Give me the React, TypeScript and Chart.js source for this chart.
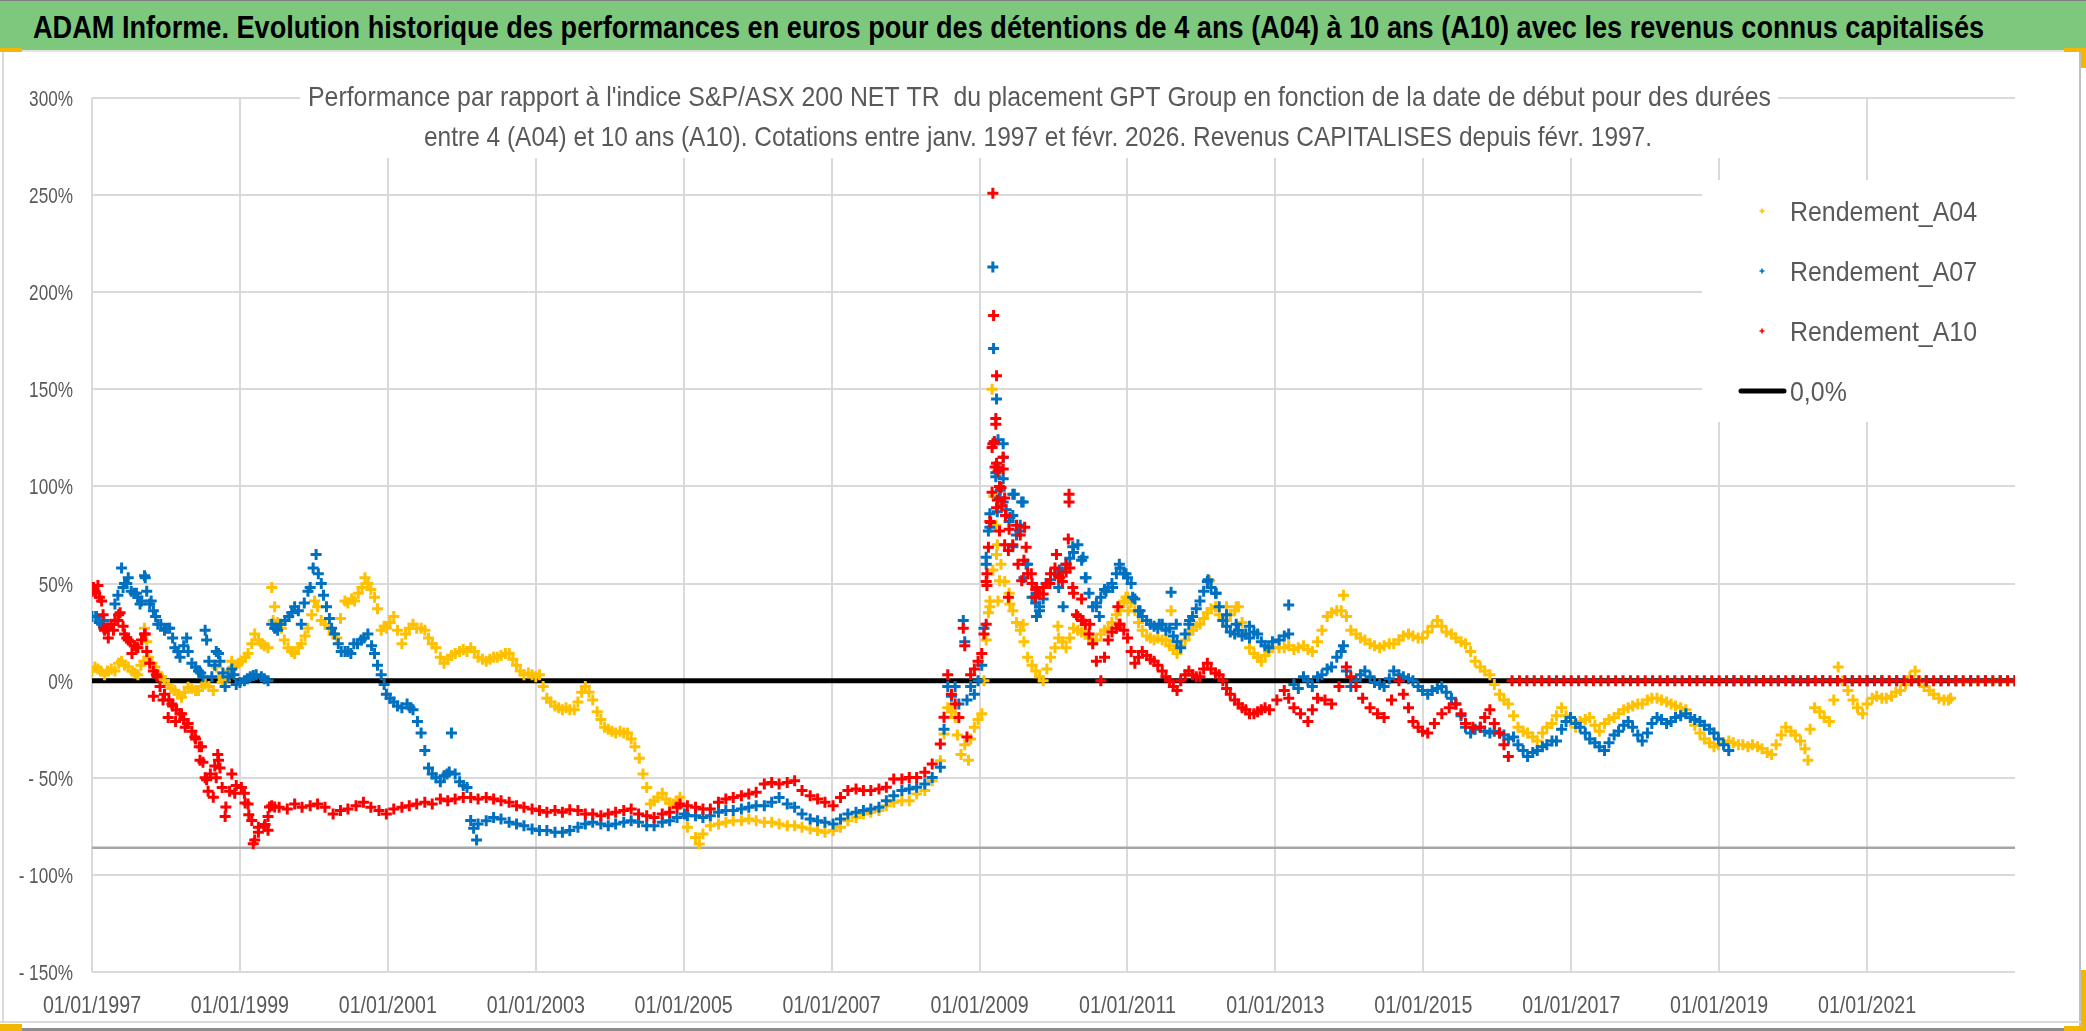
import { useEffect, useRef } from 'react';
import { Chart, registerables } from 'chart.js';

Chart.register(...registerables);

// ---------------- DATA ----------------
const TITLE =
  'ADAM Informe. Evolution historique des performances en euros pour des détentions de 4 ans (A04) à 10 ans (A10) avec les revenus connus capitalisés';
const SUBTITLE_LINES = [
  "Performance par rapport à l'indice S&P/ASX 200 NET TR  du placement GPT Group en fonction de la date de début pour des durées",
  'entre 4 (A04) et 10 ans (A10). Cotations entre janv. 1997 et févr. 2026. Revenus CAPITALISES depuis févr. 1997.',
];
const LEGEND_LABELS = ['Rendement_A04', 'Rendement_A07', 'Rendement_A10', '0,0%'];

const X_TICK_VALUES = [1997, 1999, 2001, 2003, 2005, 2007, 2009, 2011, 2013, 2015, 2017, 2019, 2021];
const X_TICK_LABELS = [
  '01/01/1997', '01/01/1999', '01/01/2001', '01/01/2003', '01/01/2005', '01/01/2007', '01/01/2009',
  '01/01/2011', '01/01/2013', '01/01/2015', '01/01/2017', '01/01/2019', '01/01/2021',
];
const Y_TICK_VALUES = [300, 250, 200, 150, 100, 50, 0, -50, -100, -150];
const Y_TICK_LABELS = ['300%', '250%', '200%', '150%', '100%', '50%', '0%', '- 50%', '- 100%', '- 150%'];
const X_MIN = 1997;
const X_MAX = 2023;
const Y_MIN = -150;
const Y_MAX = 300;

// [date as decimal year, performance in %]
const RENDEMENT_A04 = [
  [1997.00,5],[1997.04,7],[1997.08,6],[1997.12,5],[1997.17,3],[1997.21,5],[1997.26,6],[1997.31,5],[1997.36,9],[1997.40,10],
  [1997.44,8],[1997.49,7],[1997.54,5],[1997.58,4],[1997.62,3],[1997.66,8],[1997.70,10],[1997.71,27],[1997.74,20],[1997.76,12],
  [1997.81,9],[1997.85,7],[1997.90,3],[1997.94,2],[1997.98,0],[1998.03,-2],[1998.07,-4],[1998.12,-5],[1998.16,-7],[1998.21,-8.6],
  [1998.25,-6],[1998.30,-3.4],[1998.35,-4],[1998.40,-5],[1998.44,-5],[1998.49,-3],[1998.53,-1.7],[1998.58,-3],[1998.64,-5],[1998.68,7],
  [1998.72,2],[1998.76,-1],[1998.80,0],[1998.85,5],[1998.89,10],[1998.94,8],[1998.98,9],[1999.02,10],[1999.07,12],[1999.11,14],
  [1999.16,19],[1999.20,24],[1999.25,21],[1999.29,19],[1999.33,18],[1999.38,17],[1999.43,48],[1999.45,31],[1999.47,38],[1999.51,30],
  [1999.56,27],[1999.60,21],[1999.65,17],[1999.70,15],[1999.74,14],[1999.79,17],[1999.83,19],[1999.88,23],[1999.92,27],[1999.97,34],
  [2000.01,41],[2000.05,38],[2000.10,31],[2000.15,29],[2000.21,27],[2000.26,24],[2000.31,22],[2000.36,32],[2000.42,41],[2000.46,40],
  [2000.51,42],[2000.55,41],[2000.60,45],[2000.65,48],[2000.69,53],[2000.73,50],[2000.77,47],[2000.82,43],[2000.86,37],[2000.91,26],
  [2000.95,28],[2000.98,27],[2001.03,30],[2001.08,33],[2001.13,26],[2001.19,19],[2001.24,24],[2001.29,27],[2001.34,29],[2001.39,27],
  [2001.45,27],[2001.50,26],[2001.55,22],[2001.60,19],[2001.65,17],[2001.71,12],[2001.76,9],[2001.81,11],[2001.86,13],[2001.91,14],
  [2001.97,15],[2002.02,16],[2002.07,15],[2002.12,17],[2002.17,15],[2002.22,12],[2002.28,11],[2002.33,10],[2002.38,11],[2002.43,12],
  [2002.48,12],[2002.53,13],[2002.59,14],[2002.64,14],[2002.69,11],[2002.74,8],[2002.79,5],[2002.84,3],[2002.90,4],[2002.95,3],
  [2003.00,2],[2003.05,3],[2003.10,-3],[2003.15,-9],[2003.20,-11],[2003.26,-13],[2003.31,-14],[2003.36,-15],[2003.41,-14],[2003.46,-15],
  [2003.52,-15],[2003.57,-11],[2003.62,-6],[2003.67,-3],[2003.72,-6],[2003.77,-10],[2003.83,-16],[2003.88,-20],[2003.93,-24],[2003.98,-25],
  [2004.03,-26],[2004.08,-27],[2004.14,-26],[2004.19,-27],[2004.24,-27],[2004.29,-30],[2004.34,-34],[2004.40,-40],[2004.45,-48],[2004.50,-55],
  [2004.55,-63.5],[2004.60,-62],[2004.65,-60],[2004.71,-58],[2004.76,-61],[2004.81,-63],[2004.86,-63.5],[2004.91,-62],[2004.95,-60],[2005.05,-75.5],
  [2005.16,-80.7],[2005.21,-84.1],[2005.26,-79],[2005.36,-74.7],[2005.47,-73.8],[2005.57,-72.9],[2005.67,-72.1],[2005.78,-72.1],[2005.88,-71.2],[2005.98,-72.1],
  [2006.09,-72.9],[2006.19,-72.9],[2006.29,-73.8],[2006.40,-74.7],[2006.50,-74.7],[2006.60,-75.5],[2006.71,-76.4],[2006.81,-77.2],[2006.91,-78.1],[2007.02,-77.2],
  [2007.12,-75.5],[2007.22,-72.1],[2007.33,-70.4],[2007.43,-68.7],[2007.53,-67.8],[2007.64,-66.9],[2007.74,-64.4],[2007.84,-62.6],[2007.95,-61.8],[2008.05,-61.8],
  [2008.15,-58.4],[2008.26,-56.6],[2008.36,-51.5],[2008.47,-41.2],[2008.52,-27.5],[2008.57,-14],[2008.62,-16],[2008.67,-19],[2008.70,-28],[2008.75,-38],
  [2008.80,-33],[2008.85,-41],[2008.88,-30],[2008.93,-24],[2008.98,-20],[2009.03,-17],[2009.06,0],[2009.09,21],[2009.12,35],[2009.14,41],
  [2009.14,38],[2009.17,150],[2009.18,57],[2009.19,95],[2009.22,80],[2009.23,65],[2009.24,70],[2009.25,41],[2009.27,51.5],[2009.29,60],
  [2009.34,51],[2009.40,45],[2009.41,39.5],[2009.45,36],[2009.50,30],[2009.55,26],[2009.59,29],[2009.60,20],[2009.65,12],[2009.71,8],
  [2009.76,5],[2009.81,2],[2009.86,0],[2009.91,6],[2009.96,12],[2010.02,17],[2010.06,28],[2010.07,22],[2010.12,20],[2010.17,17],
  [2010.22,22],[2010.27,27],[2010.33,26],[2010.38,25],[2010.43,24],[2010.48,22],[2010.53,21],[2010.58,21],[2010.64,24],[2010.69,26],
  [2010.74,27],[2010.79,30],[2010.85,34],[2010.89,36],[2010.90,38],[2010.95,41],[2010.98,43],[2011.00,43],[2011.01,36],[2011.05,40],
  [2011.10,36],[2011.15,30],[2011.20,26],[2011.26,23],[2011.31,22],[2011.36,21],[2011.41,22],[2011.47,21],[2011.52,21],[2011.57,18],
  [2011.59,36],[2011.62,16],[2011.67,14],[2011.72,18],[2011.78,21],[2011.83,24],[2011.88,26],[2011.93,28],[2011.98,29],[2012.03,32],
  [2012.08,35],[2012.11,51.5],[2012.13,37],[2012.19,38],[2012.24,34],[2012.29,31],[2012.34,31],[2012.34,38],[2012.39,34],[2012.45,36],
  [2012.47,38],[2012.50,38],[2012.55,30],[2012.60,24],[2012.65,17],[2012.71,14],[2012.76,12],[2012.81,10],[2012.86,13],[2012.91,15],
  [2012.96,17],[2013.05,17],[2013.12,17],[2013.18,18],[2013.25,16],[2013.31,17],[2013.38,18],[2013.44,16],[2013.50,15],[2013.57,20],
  [2013.63,26],[2013.70,33],[2013.76,35],[2013.83,36],[2013.89,36],[2013.92,44],[2013.96,33],[2014.02,26],[2014.09,24],[2014.15,22],
  [2014.21,21],[2014.28,19],[2014.34,18],[2014.41,17],[2014.47,18],[2014.54,19],[2014.60,19],[2014.67,21],[2014.73,23],[2014.80,24],
  [2014.86,23],[2014.93,22],[2014.99,22],[2015.06,25],[2015.12,28],[2015.19,31],[2015.25,28],[2015.31,25],[2015.38,24],[2015.44,22],
  [2015.51,20],[2015.57,19],[2015.64,15],[2015.70,10],[2015.77,7],[2015.83,5],[2015.90,3],[2015.96,-2],[2016.03,-7],[2016.09,-10],
  [2016.15,-12],[2016.22,-18],[2016.28,-24],[2016.35,-26],[2016.41,-27],[2016.48,-29],[2016.54,-31],[2016.61,-27],[2016.67,-24],[2016.74,-22],
  [2016.80,-18],[2016.87,-14],[2016.93,-18],[2016.99,-21],[2017.06,-24],[2017.12,-21],[2017.19,-20],[2017.25,-19],[2017.32,-23],[2017.38,-26],
  [2017.45,-22],[2017.51,-20],[2017.58,-19],[2017.64,-17],[2017.71,-15],[2017.77,-14],[2017.83,-13],[2017.90,-12],[2017.96,-12],[2018.03,-10],
  [2018.09,-9],[2018.16,-9],[2018.22,-10],[2018.29,-11],[2018.35,-12],[2018.41,-13],[2018.48,-14],[2018.55,-15],[2018.61,-19],[2018.67,-23],
  [2018.74,-27],[2018.80,-30],[2018.87,-32],[2018.93,-34],[2018.99,-33],[2019.06,-32],[2019.13,-31],[2019.19,-32],[2019.26,-33],[2019.32,-33],
  [2019.39,-34],[2019.45,-33],[2019.52,-34],[2019.58,-35],[2019.65,-37],[2019.71,-38],[2019.77,-33],[2019.84,-28],[2019.90,-24],[2019.97,-26],
  [2020.03,-28],[2020.10,-31],[2020.16,-35],[2020.20,-41],[2020.23,-25],[2020.29,-14],[2020.36,-16],[2020.42,-19],[2020.49,-21],[2020.55,-10],
  [2020.61,7],[2020.67,0],[2020.74,-5],[2020.81,-10],[2020.87,-14],[2020.94,-17],[2021.00,-12],[2021.07,-9],[2021.13,-8],[2021.20,-9],
  [2021.26,-9],[2021.33,-8],[2021.39,-6],[2021.45,-5],[2021.52,-2],[2021.58,2],[2021.65,5],[2021.71,0],[2021.77,-3],[2021.84,-5],
  [2021.90,-7],[2021.97,-9],[2022.04,-10],[2022.10,-10],[2022.13,-9],
];
const A04_ZERO_DATES = [2022.2, 2022.3, 2022.4, 2022.5, 2022.6, 2022.7, 2022.8, 2022.9, 2023.0];

const RENDEMENT_A07 = [
  [1997.00,33],[1997.05,33],[1997.06,33],[1997.10,30],[1997.13,29],[1997.16,31],[1997.21,27],[1997.22,27],[1997.31,39.5],[1997.35,44],
  [1997.40,58],[1997.42,48],[1997.44,50],[1997.47,50],[1997.49,53],[1997.53,46],[1997.57,45],[1997.60,45],[1997.62,43],[1997.65,39.5],
  [1997.67,41],[1997.71,54],[1997.72,53],[1997.74,46],[1997.78,39.5],[1997.80,41],[1997.83,36],[1997.86,33],[1997.89,29],[1997.93,29],
  [1997.98,26],[1998.02,27],[1998.05,27],[1998.09,22],[1998.12,17],[1998.16,15],[1998.19,12],[1998.24,18],[1998.28,22],[1998.30,15],
  [1998.35,9],[1998.40,7],[1998.44,5],[1998.47,4],[1998.50,2],[1998.53,26],[1998.55,21],[1998.58,10],[1998.62,2],[1998.66,8],
  [1998.68,15],[1998.71,14],[1998.73,10],[1998.77,4],[1998.80,-3],[1998.84,2],[1998.89,6],[1998.92,3],[1998.95,-2],[1999.00,-1],
  [1999.06,0],[1999.10,1],[1999.14,2],[1999.18,2.6],[1999.22,3],[1999.29,2],[1999.33,1],[1999.38,0],[1999.43,29],[1999.47,27],
  [1999.51,26],[1999.55,29],[1999.61,31],[1999.66,33],[1999.70,35],[1999.74,38],[1999.79,36],[1999.83,29],[1999.87,40],[1999.92,46],
  [1999.95,48],[1999.99,58],[2000.03,65],[2000.06,55],[2000.10,50],[2000.13,44],[2000.17,38],[2000.21,32],[2000.24,27],[2000.28,24],
  [2000.33,19],[2000.37,15],[2000.42,15],[2000.46,15],[2000.50,14],[2000.54,19],[2000.59,19],[2000.64,21],[2000.68,22],[2000.73,24],
  [2000.78,18],[2000.82,14],[2000.86,8],[2000.91,3],[2000.95,-2],[2000.98,-7],[2001.03,-9],[2001.08,-11],[2001.13,-13],[2001.19,-14],
  [2001.26,-12],[2001.30,-14],[2001.34,-15],[2001.40,-21],[2001.45,-27],[2001.50,-36],[2001.55,-45],[2001.60,-48],[2001.65,-50],[2001.71,-52],
  [2001.76,-49],[2001.80,-48],[2001.83,-47],[2001.86,-27],[2001.91,-48],[2001.97,-52],[2002.02,-54],[2002.07,-55],[2002.12,-72],[2002.16,-76],
  [2002.20,-82],[2002.22,-73.8],[2002.33,-72.1],[2002.43,-70.4],[2002.53,-71.2],[2002.64,-72.9],[2002.74,-73.8],[2002.84,-74.7],[2002.95,-76.4],[2003.05,-77.2],
  [2003.15,-77.2],[2003.26,-78.1],[2003.36,-78.1],[2003.46,-77.2],[2003.57,-75.5],[2003.67,-73.8],[2003.77,-72.9],[2003.88,-73.8],[2003.98,-74.7],[2004.08,-73.8],
  [2004.19,-72.9],[2004.29,-72.1],[2004.39,-72.9],[2004.50,-74.7],[2004.60,-74.7],[2004.71,-72.9],[2004.81,-72.1],[2004.91,-70.4],[2005.01,-68.7],[2005.05,-69.5],
  [2005.16,-69.5],[2005.26,-70.4],[2005.36,-69.5],[2005.47,-67.8],[2005.57,-66.9],[2005.67,-66.9],[2005.78,-66.1],[2005.88,-65.2],[2005.98,-64.4],[2006.09,-64.4],
  [2006.19,-62.6],[2006.29,-60.1],[2006.40,-63.5],[2006.50,-65.2],[2006.60,-68.7],[2006.71,-71.2],[2006.81,-72.1],[2006.91,-72.9],[2007.02,-73.8],[2007.12,-71.2],
  [2007.22,-68.7],[2007.33,-67.8],[2007.43,-66.9],[2007.53,-66.1],[2007.64,-65.2],[2007.74,-61.8],[2007.84,-59.2],[2007.95,-56.6],[2008.05,-55.8],[2008.15,-54.9],
  [2008.26,-53.2],[2008.36,-49.8],[2008.47,-44.6],[2008.52,-25],[2008.57,-3],[2008.62,-8],[2008.67,-3],[2008.72,-12],[2008.78,31],[2008.80,20],
  [2008.83,-10],[2008.88,-3],[2008.93,-7],[2008.98,0],[2009.03,8],[2009.06,27],[2009.09,60],[2009.09,63.5],[2009.12,77],[2009.14,79],
  [2009.14,86],[2009.18,213],[2009.19,171],[2009.20,123],[2009.22,105],[2009.22,107],[2009.23,145],[2009.24,87],[2009.25,110],[2009.25,124],
  [2009.27,94],[2009.28,98],[2009.32,92],[2009.32,122],[2009.32,115],[2009.32,104],[2009.36,88],[2009.40,82],[2009.41,84],[2009.45,85],
  [2009.45,96],[2009.45,69],[2009.47,96],[2009.50,75],[2009.54,77],[2009.55,80],[2009.57,92],[2009.59,92],[2009.60,53],[2009.63,60],
  [2009.65,60],[2009.71,43],[2009.76,40],[2009.77,45],[2009.77,33],[2009.81,36],[2009.81,38],[2009.86,42],[2009.90,50],[2009.91,50],
  [2009.96,52],[2010.02,55],[2010.07,48],[2010.08,57],[2010.12,56],[2010.13,38],[2010.17,60],[2010.22,63],[2010.26,69],[2010.27,66],
  [2010.33,70],[2010.38,62],[2010.40,63.5],[2010.43,53],[2010.44,53],[2010.48,45],[2010.53,38],[2010.58,40],[2010.58,38],[2010.62,33],
  [2010.64,43],[2010.69,47],[2010.71,46],[2010.74,48],[2010.79,50],[2010.80,48],[2010.85,55],[2010.89,60],[2010.90,58],[2010.95,55],
  [2010.98,55],[2011.00,53],[2011.05,50],[2011.07,43],[2011.10,42],[2011.15,36],[2011.17,36],[2011.20,33],[2011.26,31],[2011.31,29],
  [2011.36,28],[2011.41,27],[2011.43,29],[2011.47,29],[2011.52,26],[2011.57,27],[2011.59,45.5],[2011.62,23],[2011.66,29],[2011.67,20],
  [2011.72,17],[2011.78,24],[2011.83,29],[2011.84,31],[2011.88,33],[2011.93,37],[2011.98,41],[2012.03,46],[2012.08,51],[2012.09,52],
  [2012.13,48],[2012.19,45],[2012.20,45],[2012.24,38],[2012.29,31],[2012.34,28],[2012.34,34],[2012.39,25],[2012.45,24],[2012.47,29],
  [2012.50,26],[2012.55,23],[2012.60,24],[2012.65,22],[2012.65,28],[2012.71,25],[2012.76,24],[2012.81,20],[2012.86,18],[2012.91,17],
  [2012.96,20],[2013.05,21],[2013.12,23],[2013.18,39],[2013.18,24],[2013.25,-2],[2013.31,-4],[2013.38,2],[2013.44,0],[2013.50,-3],
  [2013.57,2],[2013.63,3],[2013.70,6],[2013.76,7],[2013.83,12],[2013.89,15],[2013.92,18],[2013.96,5],[2014.02,-3],[2014.09,0],
  [2014.15,3],[2014.21,5],[2014.28,2],[2014.34,-1],[2014.41,-2],[2014.47,-3],[2014.54,1],[2014.60,5],[2014.67,3],[2014.73,2],
  [2014.80,1],[2014.86,0],[2014.93,-3],[2014.99,-5],[2015.06,-7],[2015.12,-5],[2015.19,-4],[2015.25,-3],[2015.31,-6],[2015.38,-9],
  [2015.44,-12],[2015.51,-18],[2015.57,-24],[2015.64,-27],[2015.70,-25],[2015.77,-24],[2015.83,-26],[2015.90,-27],[2015.96,-26],[2016.03,-27],
  [2016.09,-28],[2016.15,-30],[2016.22,-29],[2016.28,-33],[2016.35,-36],[2016.41,-39],[2016.48,-37],[2016.54,-36],[2016.61,-34],[2016.67,-33],
  [2016.74,-31],[2016.80,-31],[2016.87,-25],[2016.93,-21],[2016.99,-19],[2017.06,-22],[2017.12,-24],[2017.19,-27],[2017.25,-30],[2017.32,-32],
  [2017.38,-34],[2017.45,-36],[2017.51,-32],[2017.58,-28],[2017.64,-26],[2017.71,-23],[2017.77,-21],[2017.83,-24],[2017.90,-28],[2017.96,-31],
  [2018.03,-27],[2018.09,-22],[2018.16,-19],[2018.22,-20],[2018.29,-22],[2018.35,-21],[2018.41,-19],[2018.48,-18],[2018.55,-17],[2018.61,-19],
  [2018.67,-20],[2018.74,-21],[2018.80,-23],[2018.87,-25],[2018.93,-27],[2018.99,-30],[2019.06,-33],[2019.13,-36],
];
const A07_ZERO_DATES = [
  2019.2, 2019.4, 2019.6, 2019.8, 2020.0, 2020.2, 2020.4, 2020.6, 2020.8, 2021.0,
  2021.2, 2021.4, 2021.6, 2021.8, 2022.0, 2022.2, 2022.4, 2022.6, 2022.8, 2023.0,
];

const RENDEMENT_A10 = [
  [1997.00,46],[1997.02,48],[1997.04,46],[1997.05,45],[1997.08,49],[1997.10,43],[1997.13,41],[1997.15,34],[1997.16,27],[1997.17,26],
  [1997.21,27],[1997.22,22],[1997.26,29],[1997.29,26],[1997.31,31],[1997.35,31],[1997.36,34],[1997.38,35],[1997.42,28],[1997.44,24],
  [1997.47,22],[1997.49,21],[1997.52,20],[1997.54,14],[1997.57,18],[1997.60,17],[1997.62,17],[1997.67,21],[1997.71,24],[1997.72,24],
  [1997.74,15],[1997.78,9],[1997.83,-8],[1997.83,5],[1997.87,3],[1997.88,2],[1997.92,-3],[1997.96,-10],[1997.98,-7],[1998.03,-19],
  [1998.04,-10],[1998.08,-12],[1998.09,-13],[1998.13,-21],[1998.14,-15],[1998.19,-17],[1998.21,-17],[1998.24,-20],[1998.26,-24],[1998.29,-22],
  [1998.30,-22],[1998.35,-26],[1998.39,-29],[1998.40,-30],[1998.45,-34],[1998.46,-41],[1998.48,-34],[1998.50,-42],[1998.53,-50],[1998.55,-51],
  [1998.57,-57],[1998.60,-48],[1998.64,-60],[1998.66,-44],[1998.68,-50],[1998.70,-38],[1998.71,-41],[1998.73,-45],[1998.76,-55],[1998.80,-70],
  [1998.81,-65],[1998.86,-57],[1998.89,-48],[1998.93,-58],[1998.95,-54],[1999.02,-55],[1999.06,-58],[1999.07,-63],[1999.11,-63.5],[1999.12,-69],
  [1999.16,-72],[1999.18,-84],[1999.20,-82],[1999.25,-75.5],[1999.25,-78],[1999.33,-75],[1999.34,-74],[1999.38,-77],[1999.38,-70],[1999.40,-65],
  [1999.43,-64.4],[1999.47,-65],[1999.53,-65.2],[1999.64,-66.1],[1999.74,-63.5],[1999.84,-65.2],[1999.95,-64.4],[2000.05,-63.5],[2000.15,-65.2],[2000.26,-68.7],
  [2000.36,-66.9],[2000.46,-66.1],[2000.57,-64.4],[2000.67,-62.6],[2000.77,-65.2],[2000.88,-66.9],[2000.98,-68.7],[2001.08,-66.1],[2001.19,-65.2],[2001.29,-64.4],
  [2001.39,-63.5],[2001.50,-62.6],[2001.60,-63.5],[2001.71,-60.9],[2001.81,-61.8],[2001.91,-60.9],[2002.02,-60.1],[2002.12,-60.1],[2002.22,-60.9],[2002.33,-60.1],
  [2002.43,-60.9],[2002.53,-61.8],[2002.64,-62.6],[2002.74,-64.4],[2002.84,-65.2],[2002.95,-66.1],[2003.05,-66.9],[2003.15,-67.8],[2003.26,-66.9],[2003.36,-67.8],
  [2003.46,-66.5],[2003.57,-66.9],[2003.67,-68.7],[2003.77,-68.7],[2003.88,-69.5],[2003.98,-68.7],[2004.08,-67.8],[2004.19,-66.9],[2004.29,-66.1],[2004.39,-68.7],
  [2004.50,-69.5],[2004.60,-70.4],[2004.71,-68.7],[2004.81,-67.8],[2004.91,-65.2],[2004.95,-63.5],[2005.05,-64.4],[2005.16,-65.2],[2005.26,-66.1],[2005.36,-66.1],
  [2005.47,-62.6],[2005.57,-60.9],[2005.67,-60.1],[2005.78,-59.2],[2005.88,-58.4],[2005.98,-57.5],[2006.09,-53.2],[2006.19,-52.4],[2006.29,-53.2],[2006.40,-52.4],
  [2006.50,-51.5],[2006.60,-56.6],[2006.71,-59.2],[2006.81,-60.9],[2006.91,-62.6],[2007.02,-64.4],[2007.12,-60.1],[2007.22,-56.6],[2007.33,-55.8],[2007.43,-56.6],
  [2007.53,-56.6],[2007.64,-55.8],[2007.74,-54.9],[2007.84,-50.6],[2007.95,-50.6],[2008.05,-49.8],[2008.15,-49.8],[2008.26,-47.2],[2008.36,-42.9],[2008.47,-32.6],
  [2008.52,-18.9],[2008.57,3],[2008.62,-7],[2008.67,-12],[2008.72,-19],[2008.78,27],[2008.80,18],[2008.83,-29],[2008.88,3],[2008.93,6],
  [2008.98,10],[2009.03,14],[2009.06,24],[2009.09,51],[2009.09,29],[2009.10,55],[2009.10,49],[2009.12,68.7],[2009.14,82],[2009.15,81.5],
  [2009.17,97],[2009.17,120],[2009.18,251],[2009.18,122],[2009.19,188],[2009.20,123],[2009.21,110],[2009.22,135],[2009.22,132],[2009.23,157],
  [2009.23,112],[2009.23,89],[2009.24,93],[2009.25,108],[2009.27,77],[2009.27,100],[2009.29,99.5],[2009.30,90],[2009.32,115],[2009.32,109],
  [2009.34,94],[2009.34,70],[2009.35,85],[2009.39,67],[2009.39,43],[2009.40,78],[2009.45,70],[2009.50,80],[2009.52,60],[2009.55,75],
  [2009.57,51.5],[2009.60,62],[2009.61,79],[2009.63,68.7],[2009.65,55],[2009.70,55],[2009.71,50],[2009.75,43],[2009.76,47],[2009.77,48],
  [2009.81,45],[2009.86,44.6],[2009.86,48],[2009.91,50],[2009.95,50],[2009.96,55],[2010.02,58],[2010.04,65],[2010.07,54],[2010.08,53],
  [2010.12,51],[2010.17,56],[2010.17,60],[2010.20,73],[2010.21,96],[2010.21,92],[2010.22,58],[2010.26,48],[2010.27,45],[2010.31,34],
  [2010.33,33],[2010.38,42],[2010.38,31],[2010.40,31],[2010.43,29],[2010.48,24],[2010.49,29],[2010.53,19],[2010.58,10],[2010.64,0],
  [2010.69,12],[2010.74,21],[2010.79,25],[2010.85,27],[2010.87,38],[2010.89,29],[2010.90,29],[2010.95,26],[2011.00,22],[2011.05,15],
  [2011.10,9],[2011.15,12],[2011.20,15],[2011.26,13],[2011.31,11],[2011.36,10],[2011.41,8],[2011.47,5],[2011.52,2],[2011.57,0],
  [2011.62,-3],[2011.67,-5],[2011.72,0],[2011.78,3],[2011.83,5],[2011.88,3],[2011.93,2],[2011.98,2],[2012.03,6],[2012.08,9],
  [2012.13,6],[2012.19,4],[2012.24,3],[2012.29,0],[2012.34,-4],[2012.39,-7],[2012.45,-10],[2012.50,-12],[2012.55,-14],[2012.60,-15],
  [2012.65,-17],[2012.71,-17],[2012.76,-16],[2012.81,-15],[2012.86,-14],[2012.92,-15],[2013.02,-10],[2013.12,-5],[2013.18,-9],[2013.25,-14],
  [2013.34,-17],[2013.44,-21],[2013.50,-15],[2013.57,-9],[2013.67,-10],[2013.76,-12],[2013.86,-3],[2013.96,7],[2014.02,2],[2014.09,-3],
  [2014.18,-9],[2014.28,-14],[2014.38,-17],[2014.47,-19],[2014.57,-10],[2014.67,0],[2014.73,-7],[2014.80,-14],[2014.86,-21],[2014.93,-24],
  [2014.99,-26],[2015.06,-27],[2015.15,-22],[2015.25,-17],[2015.35,-14],[2015.44,-12],[2015.51,-17],[2015.57,-22],[2015.67,-24],[2015.77,-24],
  [2015.83,-19],[2015.90,-15],[2015.96,-22],[2016.03,-27],[2016.09,-33],[2016.15,-39],
];
const A10_ZERO_DATES = [
  2016.2, 2016.3, 2016.4, 2016.5, 2016.6, 2016.7, 2016.8, 2016.9, 2017.0, 2017.1,
  2017.2, 2017.3, 2017.4, 2017.5, 2017.6, 2017.7, 2017.8, 2017.9, 2018.0, 2018.1,
  2018.2, 2018.3, 2018.4, 2018.5, 2018.6, 2018.7, 2018.8, 2018.9, 2019.0, 2019.1,
  2019.2, 2019.3, 2019.4, 2019.5, 2019.6, 2019.7, 2019.8, 2019.9, 2020.0, 2020.1,
  2020.2, 2020.3, 2020.4, 2020.5, 2020.6, 2020.7, 2020.8, 2020.9, 2021.0, 2021.1,
  2021.2, 2021.3, 2021.4, 2021.5, 2021.6, 2021.7, 2021.8, 2021.9, 2022.0, 2022.1,
  2022.2, 2022.3, 2022.4, 2022.5, 2022.6, 2022.7, 2022.8, 2022.9, 2023.0,
];

const ZERO_LINE = [[1997, 0], [2023, 0]];
const LOW_REFERENCE_LINE = [[1997, -86], [2023, -86]];

// ---------------- STYLE ----------------
const COLOR_A04 = '#FFC000';
const COLOR_A07 = '#0070C0';
const COLOR_A10 = '#FF0000';
const TEXT_GRAY = '#595959';
const GRID_GRAY = '#D9D9D9';
const FONT_FAMILY = '"Liberation Sans", Arial, sans-serif';

const toPoints = (pairs) => pairs.map(([x, y]) => ({ x, y }));
const withZeros = (pairs, zeroDates) => [...toPoints(pairs), ...zeroDates.map((d) => ({ x: d, y: 0 }))];

function drawSqueezed(ctx, text, x, y, px, color, align, sx, bold = false) {
  ctx.save();
  ctx.font = `${bold ? 'bold ' : ''}${px}px ${FONT_FAMILY}`;
  ctx.fillStyle = color;
  ctx.textBaseline = 'alphabetic';
  ctx.textAlign = 'left';
  const w = ctx.measureText(text).width * sx;
  const left = align === 'center' ? x - w / 2 : align === 'right' ? x - w : x;
  ctx.translate(left, y);
  ctx.scale(sx, 1);
  ctx.fillText(text, 0, 0);
  ctx.restore();
}

function drawFitted(ctx, text, left, y, px, width, color) {
  ctx.save();
  ctx.font = `${px}px ${FONT_FAMILY}`;
  const natural = ctx.measureText(text).width;
  ctx.restore();
  drawSqueezed(ctx, text, left, y, px, color, 'left', width / natural);
}

function drawCross(ctx, x, y, r, color, lw) {
  ctx.save();
  ctx.strokeStyle = color;
  ctx.lineWidth = lw;
  ctx.beginPath();
  ctx.moveTo(x - r, y);
  ctx.lineTo(x + r, y);
  ctx.moveTo(x, y - r);
  ctx.lineTo(x, y + r);
  ctx.stroke();
  ctx.restore();
}

const overlayPlugin = {
  id: 'adamOverlay',
  beforeDatasetsDraw(chart) {
    const { ctx, chartArea } = chart;
    const xs = chart.scales.x;
    const ys = chart.scales.y;
    ctx.save();

    // Subtitle inside the plot, on a white box
    ctx.fillStyle = '#FFFFFF';
    ctx.fillRect(300, chartArea.top - 20, 1478, 80);
    drawFitted(ctx, SUBTITLE_LINES[0], 308, chartArea.top + 8, 28, 1463, TEXT_GRAY);
    drawFitted(ctx, SUBTITLE_LINES[1], 424, chartArea.top + 48, 28, 1228, TEXT_GRAY);

    // Legend box (top right of the plot)
    const lx = chartArea.right - 313;
    const ly = chartArea.top + 82;
    ctx.fillStyle = '#FFFFFF';
    ctx.fillRect(lx, ly, 313, 242);
    const colors = [COLOR_A04, COLOR_A07, COLOR_A10];
    LEGEND_LABELS.forEach((label, i) => {
      const cy = ly + 31 + i * 60;
      if (i < 3) {
        drawCross(ctx, lx + 60, cy, 2.5, colors[i], 1.6);
      } else {
        ctx.save();
        ctx.strokeStyle = '#000000';
        ctx.lineWidth = 5;
        ctx.lineCap = 'round';
        ctx.beginPath();
        ctx.moveTo(lx + 39, cy);
        ctx.lineTo(lx + 82, cy);
        ctx.stroke();
        ctx.restore();
      }
      drawSqueezed(ctx, label, lx + 88, cy + 10, 28, TEXT_GRAY, 'left', 0.89);
    });

    // Axis labels
    X_TICK_VALUES.forEach((v, i) => {
      drawSqueezed(ctx, X_TICK_LABELS[i], xs.getPixelForValue(v), chartArea.bottom + 41, 24, TEXT_GRAY, 'center', 0.817);
    });
    Y_TICK_VALUES.forEach((v, i) => {
      drawSqueezed(ctx, Y_TICK_LABELS[i], chartArea.left - 19, ys.getPixelForValue(v) + 8, 22, TEXT_GRAY, 'right', 0.78);
    });
    ctx.restore();
  },
};

const scatterStyle = (color) => ({
  showLine: false,
  pointStyle: 'cross',
  pointRadius: 5.5,
  pointHoverRadius: 5.5,
  pointBorderWidth: 3,
  borderColor: color,
  backgroundColor: color,
  pointBorderColor: color,
});

export default function App() {
  const canvasRef = useRef(null);
  const titleRef = useRef(null);

  useEffect(() => {
    if (titleRef.current) {
      const w = titleRef.current.offsetWidth;
      titleRef.current.style.transform = `scaleX(${1951 / w})`;
    }
    const chart = new Chart(canvasRef.current, {
      type: 'scatter',
      data: {
        datasets: [
          { label: LEGEND_LABELS[0], data: withZeros(RENDEMENT_A04, A04_ZERO_DATES), order: 3, ...scatterStyle(COLOR_A04) },
          { label: LEGEND_LABELS[1], data: withZeros(RENDEMENT_A07, A07_ZERO_DATES), order: 2, ...scatterStyle(COLOR_A07) },
          { label: LEGEND_LABELS[2], data: withZeros(RENDEMENT_A10, A10_ZERO_DATES), order: 1, ...scatterStyle(COLOR_A10) },
          {
            label: LEGEND_LABELS[3], data: toPoints(ZERO_LINE), order: 4, showLine: true,
            borderColor: '#000000', borderWidth: 5, pointRadius: 0, pointHoverRadius: 0,
          },
          {
            label: 'low', data: toPoints(LOW_REFERENCE_LINE), order: 5, showLine: true,
            borderColor: '#A6A6A6', borderWidth: 2.5, pointRadius: 0, pointHoverRadius: 0,
          },
        ],
      },
      options: {
        animation: false,
        responsive: false,
        devicePixelRatio: 1,
        events: [],
        layout: { padding: { left: 0, right: 71, top: 98, bottom: 0 } },
        plugins: { legend: { display: false }, title: { display: false }, tooltip: { enabled: false } },
        scales: {
          x: {
            type: 'linear',
            min: X_MIN,
            max: X_MAX,
            afterBuildTicks: (scale) => { scale.ticks = X_TICK_VALUES.map((v) => ({ value: v })); },
            afterFit: (scale) => { scale.height = 59; },
            ticks: { display: false },
            grid: { color: GRID_GRAY, lineWidth: 2, drawTicks: false },
            border: { display: false },
          },
          y: {
            type: 'linear',
            min: Y_MIN,
            max: Y_MAX,
            afterBuildTicks: (scale) => { scale.ticks = Y_TICK_VALUES.map((v) => ({ value: v })); },
            afterFit: (scale) => { scale.width = 92; },
            ticks: { display: false },
            grid: { color: GRID_GRAY, lineWidth: 2, drawTicks: false },
            border: { display: false },
          },
        },
      },
      plugins: [overlayPlugin],
    });
    return () => chart.destroy();
  }, []);

  const handle = '#F2B705';
  return (
    <div style={{ position: 'fixed', left: 0, top: 0, width: 2086, height: 1031, background: '#FFFFFF', overflow: 'hidden' }}>
      <canvas ref={canvasRef} width={2086} height={1031} style={{ position: 'absolute', left: 0, top: 0, width: 2086, height: 1031 }} />
      <div style={{ position: 'absolute', left: 0, top: 0, width: 2086, height: 50, background: '#7EC87E', borderTop: '1px solid #7F7F7F', boxSizing: 'border-box' }}>
        <span
          ref={titleRef}
          style={{
            position: 'absolute', left: 33, top: 10, whiteSpace: 'nowrap', color: '#000000',
            font: `bold 32px ${FONT_FAMILY}`, lineHeight: '32px', transformOrigin: '0 0', display: 'inline-block',
          }}
        >
          {TITLE}
        </span>
      </div>
      <div style={{ position: 'absolute', left: 0, top: 50, width: 2086, height: 2, background: '#E3E3E3' }} />
      <div style={{ position: 'absolute', left: 2, top: 52, width: 2, height: 970, background: '#D9D9D9' }} />
      <div style={{ position: 'absolute', left: 2079, top: 50, width: 2, height: 981, background: '#BFBFBF' }} />
      <div style={{ position: 'absolute', left: 0, top: 1021, width: 2086, height: 2, background: '#D9D9D9' }} />
      <div style={{ position: 'absolute', left: 0, top: 1028, width: 2086, height: 3, background: '#8C8C8C' }} />
      <div style={{ position: 'absolute', left: 0, top: 48, width: 22, height: 4, background: handle }} />
      <div style={{ position: 'absolute', left: 2064, top: 48, width: 22, height: 4, background: handle }} />
      <div style={{ position: 'absolute', left: 2081, top: 48, width: 5, height: 20, background: handle }} />
      <div style={{ position: 'absolute', left: 0, top: 1024, width: 22, height: 7, background: handle }} />
      <div style={{ position: 'absolute', left: 2081, top: 970, width: 5, height: 61, background: handle }} />
      <div style={{ position: 'absolute', left: 2064, top: 1026, width: 22, height: 5, background: handle }} />
    </div>
  );
}
